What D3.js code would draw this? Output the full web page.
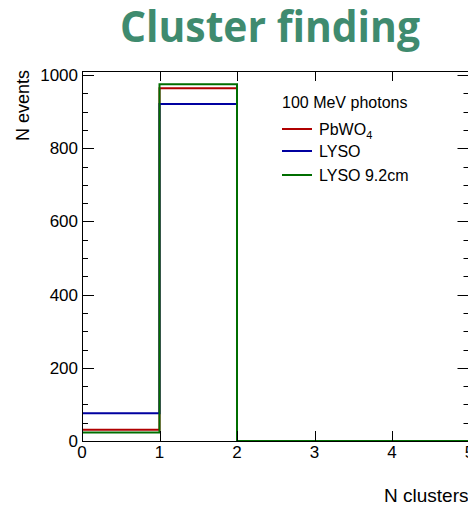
<!DOCTYPE html>
<html>
<head>
<meta charset="utf-8">
<script src="https://cdn.jsdelivr.net/npm/d3@7"></script>
<style>
  html, body { margin: 0; padding: 0; background: #fff; }
  svg { display: block; }
</style>
</head>
<body>
<svg id="chart" width="468" height="506"></svg>
<script>
// ---- data ----
const binEdges = [0, 1, 2, 3, 4, 5];
const xTickLabels = ["0", "1", "2", "3", "4", "5"];
const yTickValues = [0, 200, 400, 600, 800, 1000];
const seriesNames = ["PbWO4", "LYSO", "LYSO 9.2cm"];
const pbwo4Values = [31, 964, 0, 0, 0];
const lysoValues = [76, 921, 0, 0, 0];
const lyso92Values = [23, 975, 0, 0, 0];
const seriesColors = ["#b00000", "#0000a0", "#006e00"];
const legendHeader = "100 MeV photons";

(function () {
const svg = d3.select("#chart");
const pLeft = 82, pRight = 469.5, pTop = 71, pBottom = 441;

const x = d3.scaleLinear().domain([0, 5]).range([pLeft, pRight]);
const y = d3.scaleLinear().domain([0, 1011]).range([pBottom, pTop]);

// title
svg.append("text")
  .attr("x", 270).attr("y", 42)
  .attr("text-anchor", "middle")
  .attr("font-family", "'Open Sans', sans-serif")
  .attr("font-weight", "bold")
  .attr("font-size", 43)
  .attr("fill", "#3f8b6f")
  .attr("textLength", 300)
  .attr("lengthAdjust", "spacingAndGlyphs")
  .text("Cluster finding");

const font = "'Liberation Sans', Arial, sans-serif";

// histograms
const series = [pbwo4Values, lysoValues, lyso92Values];
const line = d3.line().x(d => x(d[0])).y(d => y(d[1])).curve(d3.curveStepAfter);
series.forEach((vals, i) => {
  const pts = vals.map((v, j) => [binEdges[j], v]);
  pts.push([binEdges[vals.length], vals[vals.length - 1]]);
  svg.append("path")
    .attr("d", line(pts))
    .attr("fill", "none")
    .attr("stroke", seriesColors[i])
    .attr("stroke-width", 2);
});

// axes (ROOT style)
const g = svg.append("g").attr("stroke", "#000").attr("stroke-width", 1).attr("fill", "none");
g.append("rect").attr("x", pLeft + 0.5).attr("y", pTop + 0.5)
  .attr("width", pRight - pLeft).attr("height", pBottom - pTop);

// y ticks
const yMinor = d3.range(0, 1011, 50);
yMinor.forEach(v => {
  const major = v % 200 === 0;
  const len = major ? 12 : 6;
  const yy = Math.round(y(v)) + 0.5;
  g.append("line").attr("x1", pLeft).attr("x2", pLeft + len).attr("y1", yy).attr("y2", yy);
  g.append("line").attr("x1", pRight).attr("x2", pRight - len).attr("y1", yy).attr("y2", yy);
});
// x ticks
binEdges.forEach(v => {
  const xx = Math.round(x(v)) + 0.5;
  g.append("line").attr("x1", xx).attr("x2", xx).attr("y1", pBottom).attr("y2", pBottom - 10);
  g.append("line").attr("x1", xx).attr("x2", xx).attr("y1", pTop).attr("y2", pTop + 10);
});

// tick labels
svg.append("g").selectAll("text").data(yTickValues).join("text")
  .attr("x", 78).attr("y", d => y(d) + 6)
  .attr("text-anchor", "end")
  .attr("font-family", font).attr("font-size", 17)
  .text(d => d);
svg.append("g").selectAll("text").data(binEdges).join("text")
  .attr("x", d => x(d)).attr("y", 458)
  .attr("text-anchor", "middle")
  .attr("font-family", font).attr("font-size", 17)
  .text((d, i) => xTickLabels[i]);

// axis titles
svg.append("text")
  .attr("transform", "translate(29,70) rotate(-90)")
  .attr("text-anchor", "end")
  .attr("font-family", font).attr("font-size", 18)
  .text("N events");
svg.append("text")
  .attr("x", 384).attr("y", 502)
  .attr("text-anchor", "start")
  .attr("font-family", font).attr("font-size", 19)
  .text("N clusters");

// legend
const lg = svg.append("g").attr("font-family", font).attr("font-size", 16);
lg.append("text").attr("x", 282).attr("y", 108).text(legendHeader);
const rowY = [129, 151, 175];
seriesNames.forEach((name, i) => {
  lg.append("line").attr("x1", 282).attr("x2", 312)
    .attr("y1", rowY[i]).attr("y2", rowY[i])
    .attr("stroke", seriesColors[i]).attr("stroke-width", 2);
  const t = lg.append("text").attr("x", 319).attr("y", rowY[i] + 6);
  if (name === "PbWO4") {
    t.append("tspan").text("PbWO");
    t.append("tspan").attr("font-size", 11).attr("dy", 4).text("4");
  } else {
    t.text(name);
  }
});
})();
</script>
</body>
</html>
